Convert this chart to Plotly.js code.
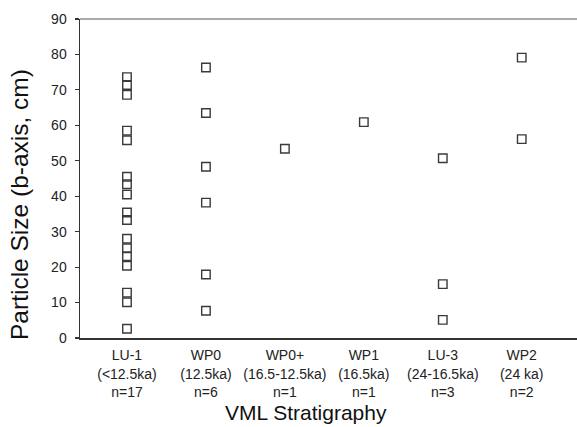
<!DOCTYPE html>
<html>
<head>
<meta charset="utf-8">
<script src="https://cdn.plot.ly/plotly-3.0.1.min.js"></script>
<style>html,body{margin:0;padding:0;background:#fff;}#chart{width:577px;height:427px;}</style>
</head>
<body>
<div id="chart"></div>
<script>
const categories = ["LU-1", "WP0", "WP0+", "WP1", "LU-3", "WP2"];
const tickLabels = [
  "LU-1<br>(&lt;12.5ka)<br>n=17",
  "WP0<br>(12.5ka)<br>n=6",
  "WP0+<br>(16.5-12.5ka)<br>n=1",
  "WP1<br>(16.5ka)<br>n=1",
  "LU-3<br>(24-16.5ka)<br>n=3",
  "WP2<br>(24 ka)<br>n=2"
];
const lu1 = [73.6, 71.4, 68.6, 58.5, 55.8, 45.5, 43.4, 40.5, 35.4, 33.3, 28.0, 25.3, 23.1, 20.4, 12.8, 10.1, 2.6];
const wp0 = [76.3, 63.5, 48.3, 38.2, 17.9, 7.7];
const wp0plus = [53.4];
const wp1 = [60.9];
const lu3 = [50.7, 15.2, 5.1];
const wp2 = [79.1, 56.1];

const groups = [lu1, wp0, wp0plus, wp1, lu3, wp2];
const xs = [], ys = [];
groups.forEach((vals, i) => vals.forEach(v => { xs.push(categories[i]); ys.push(v); }));

const font = "Liberation Sans, Arial, sans-serif";
const data = [{
  type: "scatter", mode: "markers", x: xs, y: ys,
  marker: {symbol: "square-open", size: 8.5, color: "#3a3a3a", line: {width: 1.4, color: "#3a3a3a"}},
  showlegend: false, hoverinfo: "x+y"
}];

const layout = {
  width: 577, height: 427,
  margin: {l: 80, r: 0, t: 19, b: 89},
  paper_bgcolor: "#fff", plot_bgcolor: "#fff",
  font: {family: font, color: "#222"},
  xaxis: {
    type: "category", categoryorder: "array", categoryarray: categories,
    range: [-0.595, 5.70],
    tickmode: "array", tickvals: categories, ticktext: tickLabels,
    tickfont: {size: 14, family: font, color: "#222"},
    ticks: "", showgrid: false, zeroline: false,
    showline: true, linecolor: "#333", linewidth: 1.5,
    ticklabelstandoff: 4
  },
  yaxis: {
    range: [0, 90], dtick: 10, tick0: 0,
    ticks: "outside", ticklen: 4, tickwidth: 1.2, tickcolor: "#333",
    tickfont: {size: 14, family: font, color: "#222"},
    showgrid: false, zeroline: false,
    showline: true, linecolor: "#333", linewidth: 1.5,
    ticklabelstandoff: 5
  },
  shapes: [{type: "line", xref: "paper", yref: "paper", x0: 0, x1: 1, y0: 1, y1: 1,
            line: {color: "#aaaaaa", width: 2}}],
  annotations: [
    {text: "Particle Size (b-axis, cm)", xref: "paper", yref: "paper",
     x: -0.1207, y: 0.417, xanchor: "center", yanchor: "middle", textangle: -90,
     showarrow: false, font: {size: 24.5, family: font, color: "#111"}},
    {text: "VML Stratigraphy", xref: "paper", yref: "paper",
     x: 0.455, y: -0.232, xanchor: "center", yanchor: "middle",
     showarrow: false, font: {size: 21, family: font, color: "#111"}}
  ]
};

Plotly.newPlot("chart", data, layout, {displayModeBar: false, staticPlot: true});
</script>
</body>
</html>
